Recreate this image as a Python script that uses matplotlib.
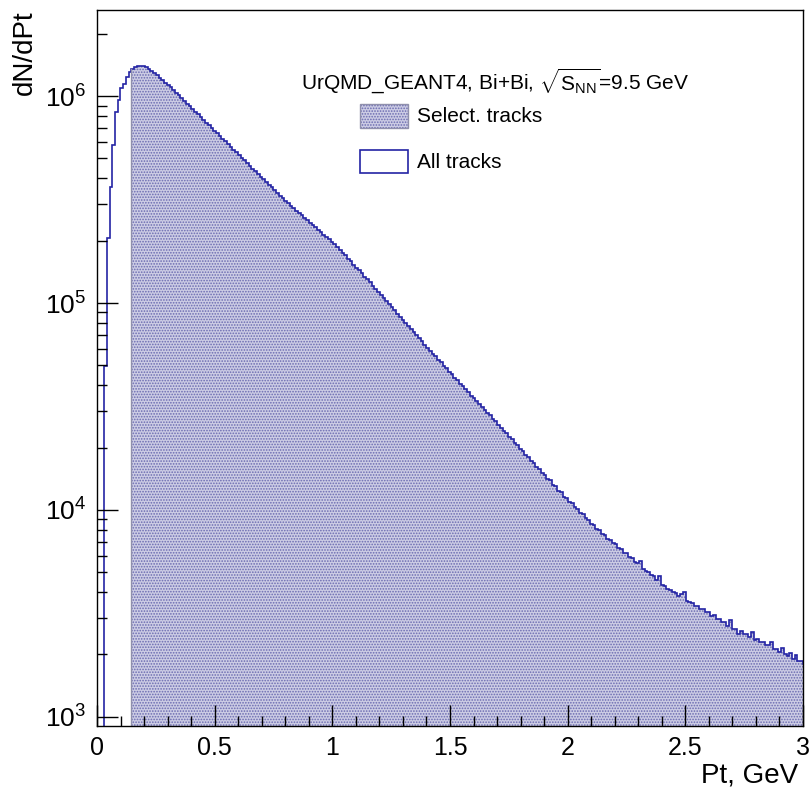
import numpy as np
import matplotlib
matplotlib.use("Agg")
import matplotlib.pyplot as plt
from matplotlib.patches import Rectangle
from matplotlib.ticker import LogLocator, MultipleLocator, NullFormatter

plt.rcParams['font.family'] = ['Liberation Sans', 'DejaVu Sans']
plt.rcParams['mathtext.fontset'] = 'custom'
plt.rcParams['mathtext.rm'] = 'Liberation Sans'
plt.rcParams['mathtext.it'] = 'Liberation Sans:italic'
plt.rcParams['hatch.linewidth'] = 0.8

# binning of the Pt histogram (GeV)
pt_lo = 0.03
bin_w = 0.0116
pt_cut = 0.146   # selected tracks start here

# dN/dPt per bin, all tracks
all_tracks = [
    49400, 207000, 362000, 582000, 837000, 960000, 1090000, 1140000, 1240000, 1310000,
    1359000, 1377000, 1393000, 1400000, 1396000, 1380000, 1355000, 1324000, 1291000, 1259000,
    1227000, 1197000, 1164000, 1135000, 1104000,
    1071000, 1039000, 1009000, 979000, 950000, 921000, 894000, 867000, 842000, 817000,
    792000, 769000, 746000, 724000, 702000, 681000, 661000, 642000, 622000, 604000,
    586000, 569000, 552000, 535000, 519000, 504000, 489000, 474000, 460000, 447000,
    433000, 421000, 408000, 396000, 384000, 373000, 362000, 351000, 340000, 330000,
    321000, 311000,
    303000, 295000, 287000, 280000, 272000, 265000, 258000, 251000, 245000, 238000,
    232000, 226000, 220000, 214000, 208000, 203000, 198000, 192000, 187000,
    181000, 175000, 170000, 164000, 159000, 153000, 148000, 144000, 139000, 134000,
    130000, 126000,
    121500, 117400, 113400, 109500, 105800, 102200, 98800, 95400, 92200, 89000,
    86000, 83100, 80300, 77600, 74900, 72400, 69900, 67500, 65300, 63000, 60900, 58800,
    56900, 55300, 53100, 51700, 49800, 48400, 46600, 45400, 43600, 42400,
    40700, 39800, 38200, 37200, 35700, 34900, 33500, 32600, 31300, 30500,
    29300, 28600, 27400, 26800, 25700, 25000, 24000, 23500, 22500, 22000,
    21100, 20600, 19700, 19300, 18400, 18000, 17300, 16900, 16100, 15800,
    15100, 14800, 14100, 13900, 13200, 13000, 12400, 12200, 11600, 11400,
    10900, 10750, 10300, 10100, 9680, 9520, 9120, 8950, 8580, 8450,
    8080, 7950, 7640, 7560, 7260, 7180, 6880, 6820, 6540, 6500,
    6200, 6170, 5900, 5850, 5620, 5560, 5650, 5200, 5080, 5020,
    4820, 4770, 4580, 4780, 4350, 4300, 4130, 4120, 3990, 3980,
    3840, 3900, 4020, 3640, 3580, 3560, 3440, 3430, 3320, 3310,
    3200, 3200, 3080, 3090, 2970, 2980, 2860, 2870, 2760, 2930,
    2670, 2660, 2500, 2590, 2510, 2520, 2440, 2560, 2360, 2370,
    2290, 2300, 2220, 2230, 2290, 2120, 2120, 2060, 2150, 2000,
    1970, 2040, 1910, 1990, 1850, 1860, 1800,
]

x_ticks = [0, 0.5, 1, 1.5, 2, 2.5, 3]
x_tick_labels = ['0', '0.5', '1', '1.5', '2', '2.5', '3']

counts = np.array(all_tracks, dtype=float)
edges = pt_lo + bin_w * np.arange(len(counts) + 1)
i_cut = int(np.argmin(np.abs(edges - pt_cut)))

blue = '#2424a4'
fill_col = '#ccccE4'
dot_col = '#6a6ab0'
hatch = '......'

fig = plt.figure(figsize=(8.1, 7.89), dpi=100)
ax = fig.add_axes([97 / 810, 63 / 789, 706 / 810, 716 / 789])

# selected tracks (filled, dotted pattern)
ax.stairs(counts[i_cut:], edges[i_cut:], baseline=1, fill=True,
          facecolor=fill_col, edgecolor=dot_col, lw=0, hatch=hatch)
ax.plot([edges[i_cut], edges[i_cut]], [1, counts[i_cut]], color='#9090ac', lw=1)
# all tracks (outline)
ax.stairs(counts, edges, baseline=1, color=blue, lw=1.2)

ax.set_yscale('log')
ax.set_xlim(0, 3)
ax.set_ylim(902, 2.61e6)

ax.set_xticks(x_ticks)
ax.set_xticklabels(x_tick_labels)
ax.xaxis.set_minor_locator(MultipleLocator(0.1))
ax.yaxis.set_major_locator(LogLocator(base=10))
ax.yaxis.set_minor_locator(LogLocator(base=10, subs=np.arange(2, 10)))
ax.yaxis.set_minor_formatter(NullFormatter())

ax.tick_params(which='both', direction='in', top=False, right=False, width=1)
ax.tick_params(which='major', length=15)
ax.tick_params(which='minor', length=7.5)
ax.tick_params(axis='x', which='major', labelsize=18, pad=7)
ax.tick_params(axis='y', which='major', labelsize=19, pad=8)
for s in ax.spines.values():
    s.set_linewidth(1)

fig.text(25 / 810, 1 - 10 / 789, 'dN/dPt', rotation=90, ha='center', va='top', fontsize=20)
fig.text(798 / 810, 1 - 776 / 789, 'Pt, GeV', ha='right', va='center', fontsize=20)

# legend
fig.text(495 / 810, 1 - 81 / 789,
         r'UrQMD_GEANT4, Bi+Bi, $\sqrt{\mathrm{S}_{\mathrm{NN}}}$=9.5 GeV',
         ha='center', va='center', fontsize=15)
fig.patches.append(Rectangle((360 / 810, 1 - 128 / 789), 48 / 810, 24 / 789,
                             transform=fig.transFigure, facecolor=fill_col,
                             edgecolor=dot_col, lw=0, hatch=hatch))
fig.patches.append(Rectangle((360 / 810, 1 - 128 / 789), 48 / 810, 24 / 789,
                             transform=fig.transFigure, facecolor='none',
                             edgecolor='#9090ac', lw=1))
fig.patches.append(Rectangle((360 / 810, 1 - 173 / 789), 48 / 810, 23 / 789,
                             transform=fig.transFigure, facecolor='white',
                             edgecolor=blue, lw=1.2))
fig.text(417 / 810, 1 - 116 / 789, 'Select. tracks', ha='left', va='center', fontsize=15)
fig.text(417 / 810, 1 - 162 / 789, 'All tracks', ha='left', va='center', fontsize=15)

fig.savefig('out.png', dpi=100)
